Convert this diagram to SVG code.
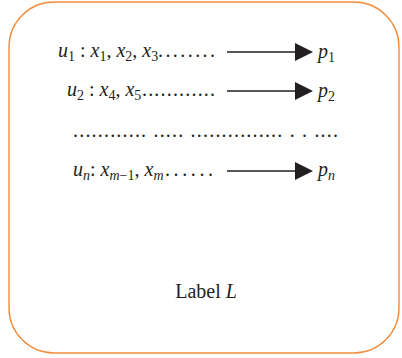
<svg xmlns="http://www.w3.org/2000/svg" width="402" height="358" viewBox="0 0 402 358">
<style>
text{font-family:"Liberation Serif","Times New Roman",serif;font-size:20px;fill:#231f20}
.i{font-style:italic}
.s{font-size:14px}
.conn line{stroke:#231f20;stroke-width:1.3}
</style>
<defs>
<marker id="ah" viewBox="0 0 18 18" refX="0" refY="9" markerWidth="18" markerHeight="18" markerUnits="userSpaceOnUse" orient="auto">
<path d="M0,0 L18,9 L0,18 Z" fill="#231f20"/>
</marker>
</defs>
<g id="frame">
<rect x="9" y="2" width="390" height="351" rx="45" ry="45" fill="#fff" stroke="#f28c3c" stroke-width="1.4"/>
</g>
<g id="row1">
<text x="58" y="57"><tspan class="i">u</tspan><tspan class="s" dy="4">1</tspan><tspan dy="-4"> : </tspan><tspan class="i">x</tspan><tspan class="s" dy="4">1</tspan><tspan dy="-4">, </tspan><tspan class="i">x</tspan><tspan class="s" dy="4">2</tspan><tspan dy="-4">, </tspan><tspan class="i">x</tspan><tspan class="s" dy="4">3</tspan></text>
<text x="158" y="57" textLength="57" lengthAdjust="spacing">........</text>
<text x="318" y="58"><tspan class="i">p</tspan><tspan class="s" dy="4">1</tspan></text>
</g>
<g id="row2">
<text x="67" y="96"><tspan class="i">u</tspan><tspan class="s" dy="4">2</tspan><tspan dy="-4"> : </tspan><tspan class="i">x</tspan><tspan class="s" dy="4">4</tspan><tspan dy="-4">, </tspan><tspan class="i">x</tspan><tspan class="s" dy="4">5</tspan></text>
<text x="142" y="96" textLength="73" lengthAdjust="spacing">............</text>
<text x="318" y="97"><tspan class="i">p</tspan><tspan class="s" dy="4">2</tspan></text>
</g>
<g id="rowdots">
<text x="73" y="137" textLength="265" lengthAdjust="spacing">............ ..... ............... . . ....</text>
</g>
<g id="rown">
<text x="73" y="176"><tspan class="i">u</tspan><tspan class="s i" dy="4">n</tspan><tspan dy="-4">: </tspan><tspan class="i">x</tspan><tspan class="s i" dy="4">m</tspan><tspan class="s">−1</tspan><tspan dy="-4">, </tspan><tspan class="i">x</tspan><tspan class="s i" dy="4">m</tspan></text>
<text x="165" y="176" textLength="48" lengthAdjust="spacing">......</text>
<text x="318" y="176"><tspan class="i">p</tspan><tspan class="s i" dy="4">n</tspan></text>
</g>
<g id="label">
<text x="206" y="298" text-anchor="middle">Label <tspan class="i">L</tspan></text>
</g>
<g class="conn" id="connectors">
<line x1="227" y1="52" x2="295" y2="52" marker-end="url(#ah)"/>
<line x1="227" y1="91" x2="295" y2="91" marker-end="url(#ah)"/>
<line x1="227" y1="171" x2="295" y2="171" marker-end="url(#ah)"/>
</g>
</svg>
